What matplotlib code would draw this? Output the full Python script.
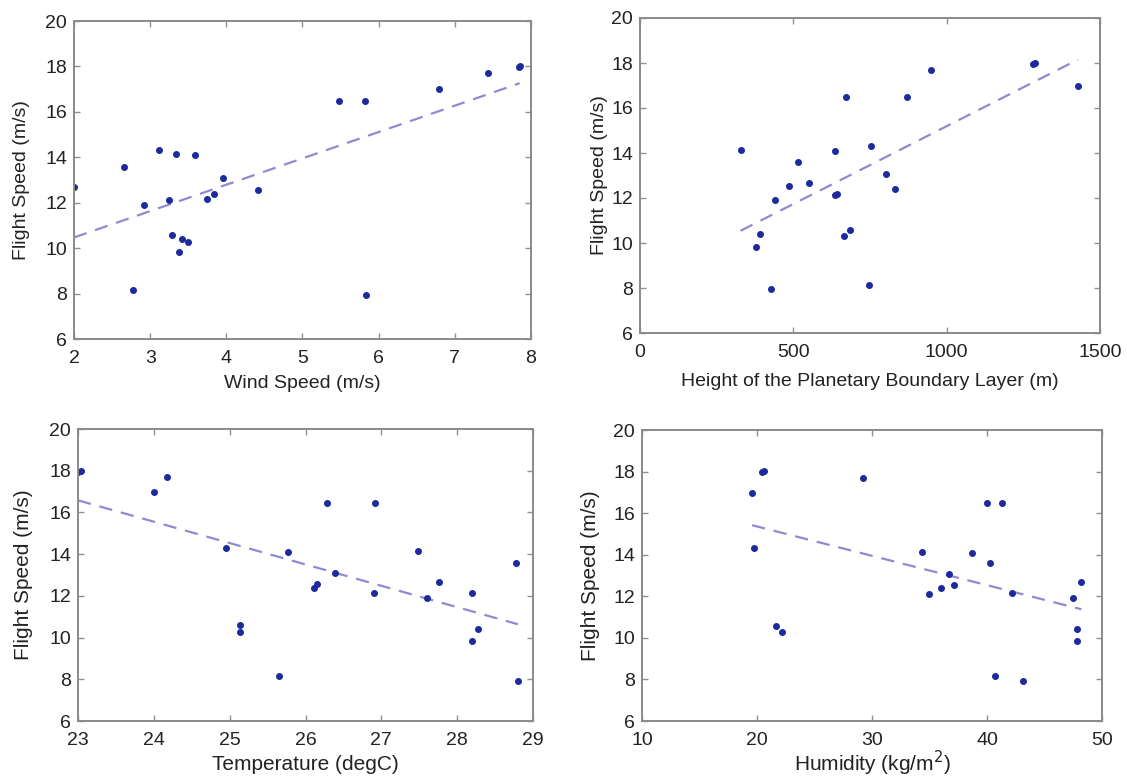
import numpy as np
import matplotlib
matplotlib.use('Agg')
import matplotlib.pyplot as plt

plt.rcParams['font.family'] = ['Liberation Sans', 'DejaVu Sans']

# flight speed for each of the 23 flights
flight_speed = [17.96, 18.01, 17.69, 16.99, 16.47, 16.47, 14.30, 14.14, 14.08, 13.59, 13.08, 12.67,
                12.55, 12.38, 12.16, 12.13, 11.91, 10.58, 10.42, 10.29, 9.84, 8.15, 7.94]

# predictors, same flight order
wind_speed = [7.84, 7.85, 7.44, 6.79, 5.48, 5.82, 3.12, 3.34, 3.59, 2.66, 3.96, 2.00,
              4.42, 3.84, 3.75, 3.25, 2.92, 3.29, 3.42, 3.50, 3.38, 2.78, 5.83]
pbl_height = [1283, 1288, 950, 1428, 671, 870, 753, 328, 635, 516, 801, 552,
              486, 833, 642, 635, 441, 686, 390, 666, 377, 748, 426]
temperature = [23.00, 23.04, 24.18, 24.00, 26.29, 26.92, 24.95, 27.48, 25.77, 28.77, 26.39, 27.76,
               26.15, 26.11, 28.20, 26.90, 27.60, 25.14, 28.27, 25.13, 28.20, 25.65, 28.80]
humidity = [20.40, 20.57, 29.24, 19.57, 40.00, 41.33, 19.77, 34.35, 38.70, 40.23, 36.70, 48.20,
            37.16, 35.97, 42.14, 34.96, 47.50, 21.68, 47.83, 22.14, 47.83, 40.72, 43.16]

panels = [
    (wind_speed, 'Wind Speed (m/s)', (2, 8), [2, 3, 4, 5, 6, 7, 8]),
    (pbl_height, 'Height of the Planetary Boundary Layer (m)', (0, 1500), [0, 500, 1000, 1500]),
    (temperature, 'Temperature (degC)', (23, 29), [23, 24, 25, 26, 27, 28, 29]),
    (humidity, 'Humidity (kg/m$^2$)', (10, 50), [10, 20, 30, 40, 50]),
]

W, H = 1127, 780
# axes boxes in pixels: left, top, right, bottom
boxes_px = [(74, 21, 531, 339), (640, 18, 1100, 333), (78, 429, 533, 721), (642, 430, 1102, 721)]
# label centres in pixels: y-label x position, x-label y position
ylab_x = [22, 600, 24, 590]
xlab_y = [383, 381, 764, 763]
label_size = [14, 14, 15, 15]

fig = plt.figure(figsize=(W / 100, H / 100), dpi=100)
y = np.array(flight_speed)

for i, (xvals, xlabel, xlim, xticks) in enumerate(panels):
    l, t, r, b = boxes_px[i]
    ax = fig.add_axes([l / W, 1 - b / H, (r - l) / W, (b - t) / H])
    x = np.array(xvals, dtype=float)
    # least squares trend line over the data range
    slope, icpt = np.polyfit(x, y, 1)
    xs = np.array([x.min(), x.max()])
    ax.plot(xs, slope * xs + icpt, '--', color='#8f8ad2', lw=1.6, dashes=(6, 4))
    ax.plot(x, y, '.', color='#1c2a9c', ms=8)
    ax.set_xlim(*xlim)
    ax.set_ylim(6, 20)
    ax.set_xticks(xticks)
    ax.set_yticks(range(6, 21, 2))
    ax.set_xlabel(xlabel, fontsize=label_size[i], color='#222222', va='center')
    ax.set_ylabel('Flight Speed (m/s)', fontsize=label_size[i], color='#222222', va='center')
    ax.xaxis.set_label_coords(0.5, -(xlab_y[i] - b) / (b - t))
    ax.yaxis.set_label_coords(-(l - ylab_x[i]) / (r - l), 0.5)
    ax.tick_params(direction='in', length=4, width=1, color='#909090',
                   top=True, right=True, labelsize=14, labelcolor='#222222')
    ax.tick_params(axis='x', pad=8)
    ax.tick_params(axis='y', pad=5)
    for s in ax.spines.values():
        s.set_color('#8a8a8a')
        s.set_linewidth(1.4)

fig.savefig('out.png', dpi=100)
